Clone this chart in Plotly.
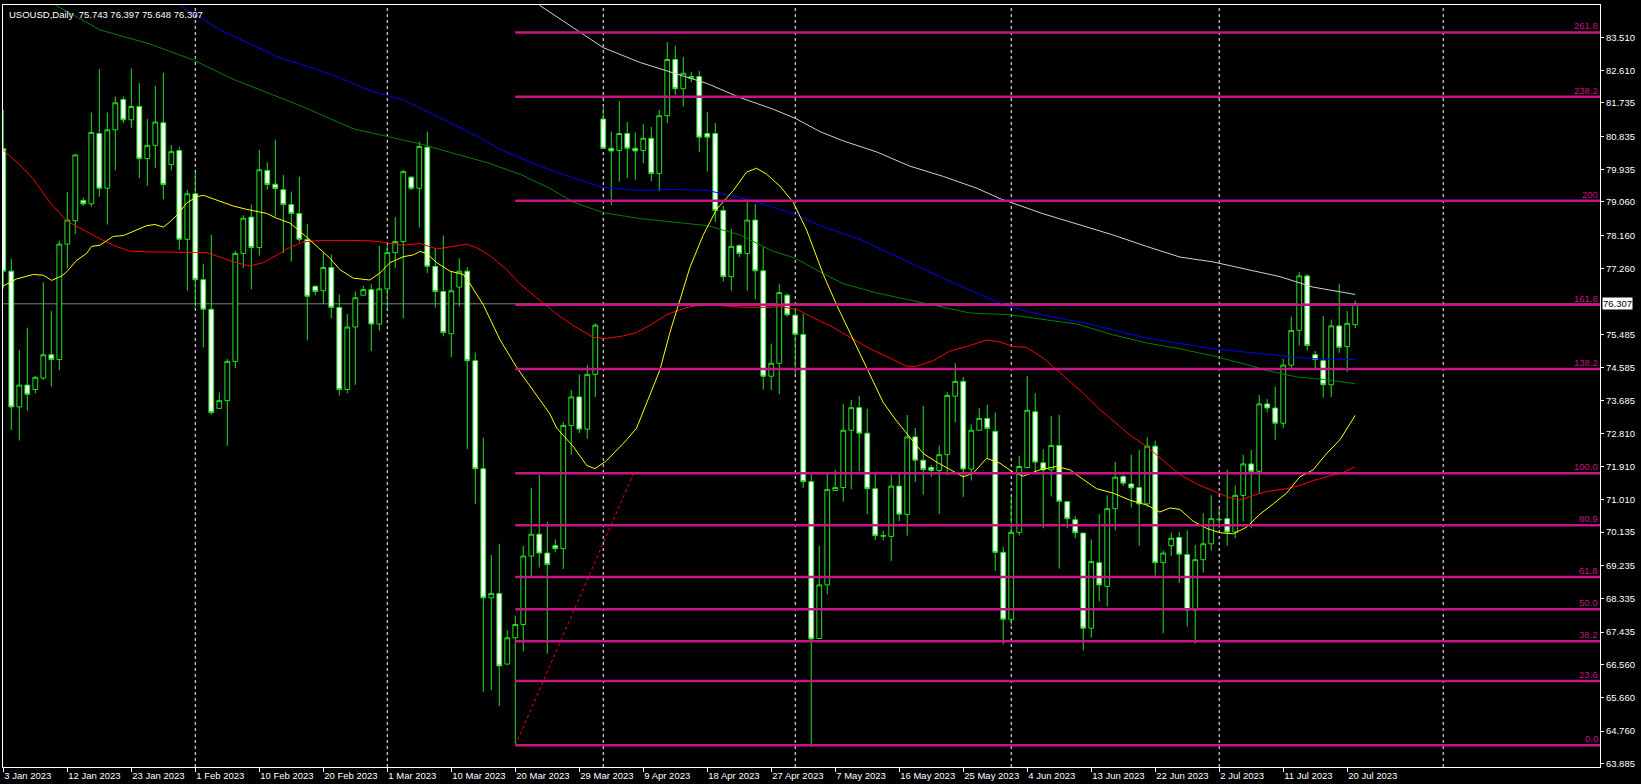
"""USOUSD daily candles with moving averages and a Fibonacci grid (MT4 look)."""

import plotly.graph_objects as go

BG = '#000000'
FG = '#ffffff'
CANDLE_GREEN = '#22e022'
FIB_COLOR = '#c71585'

# one x label every 8 bars (Sunday bars included, as on the broker feed)
TICK_BARS = list(range(0, 169, 8))
TICK_LABELS = [
    '3 Jan 2023', '12 Jan 2023', '23 Jan 2023', '1 Feb 2023', '10 Feb 2023',
    '20 Feb 2023', '1 Mar 2023', '10 Mar 2023', '20 Mar 2023', '29 Mar 2023',
    '9 Apr 2023', '18 Apr 2023', '27 Apr 2023', '7 May 2023', '16 May 2023',
    '25 May 2023', '4 Jun 2023', '13 Jun 2023', '22 Jun 2023', '2 Jul 2023',
    '11 Jul 2023', '20 Jul 2023',
]
# first bar of each month (last one is in the empty future area)
MONTH_BARS = [24, 48, 75, 99, 126, 152, 180]

PRICE_TICKS = [83.510, 82.610, 81.735, 80.835, 79.935, 79.060, 78.160, 77.260,
               75.485, 74.585, 73.685, 72.810, 71.910, 71.010, 70.135, 69.235,
               68.335, 67.435, 66.560, 65.660, 64.760, 63.885]

LAST_PRICE = 76.307

OPEN = [
    80.50, 77.19, 73.52, 74.11, 73.99, 74.30, 74.93, 74.80, 77.92, 78.55,
    79.10, 79.01, 80.91, 79.43, 81.01, 81.83, 81.28, 81.64, 80.23, 80.59,
    81.20, 80.07, 80.45, 78.05, 79.28, 76.96, 76.16, 73.48, 73.69, 74.75,
    77.67, 78.65, 77.83, 79.91, 79.54, 79.39, 78.99, 78.75, 78.05, 76.78,
    76.66, 77.29, 76.21, 73.99, 75.68, 76.54, 76.69, 75.76, 76.71, 77.69,
    77.99, 79.73, 79.43, 80.54, 77.32, 76.64, 75.50, 76.76, 77.19, 74.77,
    71.85, 68.36, 68.48, 66.57, 67.28, 67.64, 69.49, 70.08, 69.57, 69.77,
    69.69, 73.02, 73.79, 72.92, 74.40, 81.30, 80.51, 80.45, 80.91, 80.51,
    80.45, 80.78, 79.83, 81.39, 82.91, 82.12, 82.40, 82.45, 80.91, 80.91,
    78.83, 77.04, 77.88, 77.67, 78.57, 77.20, 74.35, 74.70, 76.54, 76.00,
    75.48, 71.50, 67.26, 68.71, 71.26, 71.34, 72.89, 73.50, 72.81, 71.31,
    70.04, 70.02, 71.38, 70.61, 72.71, 72.08, 71.88, 71.80, 72.23, 73.81,
    74.21, 71.84, 72.89, 73.21, 72.86, 69.59, 67.78, 70.13, 71.88, 73.39,
    72.01, 71.82, 72.48, 70.96, 70.47, 70.11, 67.54, 69.31, 68.67, 70.77,
    71.64, 71.44, 71.34, 70.90, 72.46, 69.31, 69.77, 69.99, 69.53, 68.03,
    69.39, 69.82, 70.47, 70.50, 70.14, 71.13, 71.98, 71.78, 73.60, 73.49,
    73.08, 74.65, 75.59, 77.06, 74.93, 74.77, 74.12, 75.71, 75.15, 75.743,
]
HIGH = [
    81.54, 77.52, 75.05, 75.66, 74.36, 76.89, 76.11, 78.01, 79.33, 80.36,
    79.18, 81.48, 82.65, 81.48, 81.91, 81.91, 82.67, 82.27, 81.30, 82.19,
    82.55, 80.60, 80.55, 79.38, 79.87, 77.38, 78.17, 73.91, 74.82, 77.74,
    78.70, 78.99, 80.46, 80.13, 80.74, 79.79, 79.34, 79.74, 78.47, 76.81,
    77.69, 77.64, 76.56, 76.03, 76.64, 76.79, 76.84, 77.87, 77.89, 78.65,
    79.93, 79.76, 80.69, 80.96, 77.79, 78.15, 77.19, 77.54, 77.29, 74.99,
    72.69, 69.52, 69.82, 67.48, 67.88, 69.77, 71.33, 71.68, 70.41, 69.94,
    73.11, 73.97, 74.40, 74.65, 75.78, 81.62, 80.96, 81.78, 81.22, 80.94,
    81.17, 81.09, 81.54, 83.38, 83.28, 82.98, 82.57, 82.60, 81.49, 81.19,
    78.95, 78.33, 77.92, 79.10, 79.00, 77.86, 75.23, 76.84, 76.59, 76.18,
    76.03, 71.69, 69.77, 71.73, 71.82, 73.60, 73.71, 73.82, 73.47, 71.77,
    70.17, 71.68, 71.75, 73.30, 72.95, 73.54, 71.94, 72.48, 73.92, 74.70,
    74.33, 73.05, 73.49, 73.58, 73.37, 69.74, 71.08, 72.20, 74.36, 73.89,
    72.38, 73.28, 73.31, 70.96, 70.57, 70.11, 69.94, 70.62, 71.13, 72.03,
    71.69, 72.23, 72.36, 72.70, 72.61, 69.64, 70.12, 70.14, 70.18, 69.79,
    70.65, 71.13, 70.77, 71.82, 71.40, 72.23, 72.36, 73.84, 73.73, 74.07,
    74.82, 75.96, 77.16, 77.11, 75.03, 75.98, 75.88, 76.84, 76.11, 76.397,
]
LOW = [
    76.72, 72.89, 72.61, 73.42, 73.89, 74.25, 74.07, 74.52, 77.27, 78.20,
    78.95, 78.93, 79.20, 78.45, 79.91, 81.19, 81.06, 79.71, 79.50, 79.98,
    79.13, 79.91, 77.77, 76.66, 76.21, 75.13, 73.31, 73.48, 72.47, 74.57,
    77.27, 76.70, 77.61, 79.39, 78.67, 77.67, 77.45, 77.98, 75.32, 76.54,
    76.31, 75.91, 73.83, 73.89, 74.12, 76.54, 75.03, 75.58, 76.18, 77.27,
    75.91, 79.38, 78.37, 77.14, 76.21, 75.43, 74.87, 76.23, 72.38, 70.90,
    65.82, 65.87, 65.44, 66.55, 64.39, 66.91, 68.91, 69.18, 66.85, 69.59,
    69.14, 72.23, 72.81, 72.66, 73.79, 80.51, 78.98, 79.61, 79.71, 79.66,
    80.11, 79.62, 79.35, 81.19, 81.95, 81.64, 82.30, 80.41, 79.88, 78.52,
    76.91, 76.66, 77.57, 76.66, 76.43, 73.99, 73.97, 73.87, 75.96, 74.42,
    71.33, 64.33, 67.26, 68.46, 71.26, 70.96, 71.29, 71.78, 70.63, 69.92,
    69.92, 69.36, 70.43, 70.04, 71.50, 71.15, 71.63, 70.63, 71.68, 73.10,
    71.09, 71.53, 72.89, 72.13, 69.09, 67.10, 67.63, 70.04, 71.88, 71.78,
    70.24, 71.10, 69.15, 70.24, 69.97, 66.93, 67.29, 68.26, 68.13, 70.18,
    71.38, 70.80, 69.77, 70.82, 68.96, 67.40, 69.49, 68.76, 67.58, 67.12,
    69.04, 69.64, 70.24, 69.77, 69.97, 70.43, 70.24, 71.19, 73.37, 72.63,
    72.94, 74.55, 75.18, 75.05, 74.52, 73.77, 73.79, 74.98, 74.47, 75.648,
]
CLOSE = [
    77.19, 73.52, 74.11, 73.86, 74.32, 74.93, 74.80, 77.92, 78.57, 80.33,
    79.01, 80.94, 79.43, 81.01, 81.74, 81.28, 81.64, 80.23, 80.59, 81.22,
    79.53, 80.42, 78.05, 79.28, 76.96, 76.16, 73.37, 73.69, 74.75, 77.67,
    78.62, 77.83, 79.93, 79.53, 79.42, 78.99, 78.75, 78.05, 76.51, 76.64,
    77.29, 76.21, 73.99, 75.68, 76.47, 76.69, 75.76, 76.71, 77.69, 77.99,
    79.88, 79.43, 80.56, 77.32, 76.64, 75.53, 76.66, 77.19, 74.77, 71.85,
    68.36, 68.48, 66.52, 67.28, 67.64, 69.49, 70.08, 69.57, 69.26, 69.69,
    73.02, 73.79, 72.92, 74.40, 75.73, 80.51, 80.44, 80.91, 80.51, 80.44,
    80.78, 79.83, 81.39, 82.91, 82.12, 82.54, 82.45, 80.81, 80.81, 78.83,
    77.04, 77.86, 77.67, 78.57, 77.20, 74.35, 74.70, 76.61, 76.01, 75.48,
    71.50, 67.25, 68.71, 71.29, 71.34, 72.89, 73.50, 72.81, 71.31, 70.04,
    70.03, 71.38, 70.62, 72.71, 72.08, 71.83, 71.80, 72.23, 73.83, 74.21,
    71.84, 72.89, 73.21, 72.94, 69.59, 67.78, 70.13, 71.91, 73.43, 72.03,
    71.82, 72.48, 70.97, 70.50, 70.12, 67.54, 69.34, 68.71, 70.77, 71.62,
    71.46, 71.33, 70.90, 72.46, 69.31, 69.57, 69.97, 69.54, 68.03, 69.39,
    69.82, 70.50, 70.48, 70.14, 71.13, 71.98, 71.78, 73.60, 73.49, 73.08,
    74.65, 75.59, 77.06, 75.18, 74.80, 74.12, 75.71, 75.13, 75.78, 76.307,
]

# moving averages at bar positions
YELLOW_X = [0, 1.67, 3.75, 5, 6.04, 7.29, 7.92, 9.17, 10.42, 11.04, 12.08, 13.75,
            15, 16.25, 17.92, 18.96, 20, 20.83, 21.88, 22.92, 24.17, 25, 27.08,
            28.75, 30.42, 31.67, 32.92, 34.17, 35.83, 37.92, 39.58, 40.83, 42.08,
            43.75, 45.83, 47.08, 48.33, 50, 51.25, 52.08, 52.92, 54.17, 55.83,
            57.5, 58.33, 60, 62.08, 64.17, 66.25, 68.33, 69.17, 71.25, 72.92,
            73.96, 75.42, 77.92, 79.17, 80.42, 82.08, 83.33, 84.58, 85.83, 87.5,
            89.17, 91.25, 92.92, 94.17, 95.42, 97.08, 98.75, 100.42, 102.5,
            104.17, 106.25, 108.33, 110, 111.67, 113.33, 115, 116.67, 118.33, 120,
            121.25, 122.92, 124.58, 126.25, 127.5, 129.58, 131.67, 133.33, 135,
            136.67, 138.75, 140.83, 142.92, 144.58, 145.83, 147.08, 148.75,
            150.42, 152.08, 153.75, 155.42, 157.08, 158.75, 160.42, 162.08,
            163.75, 165.42, 167.08, 169]
YELLOW_Y = [76.79, 76.98, 77.10, 77.08, 76.94, 77.06, 77.17, 77.48, 77.67, 77.86,
            77.89, 78.13, 78.15, 78.27, 78.42, 78.45, 78.38, 78.52, 78.74, 79.03,
            79.20, 79.24, 79.08, 78.95, 78.86, 78.80, 78.75, 78.62, 78.49, 78.11,
            77.79, 77.54, 77.23, 77.00, 76.95, 77.14, 77.42, 77.58, 77.63, 77.72,
            77.67, 77.42, 77.19, 77.10, 76.85, 76.28, 75.34, 74.59, 73.96, 73.33,
            72.95, 72.45, 71.94, 71.85, 72.07, 72.63, 72.95, 73.64, 74.52, 75.53,
            76.41, 77.29, 78.17, 78.86, 79.37, 79.87, 79.97, 79.81, 79.49, 79.05,
            78.30, 77.10, 76.28, 75.34, 74.40, 73.64, 73.14, 72.70, 72.26, 72.03,
            71.82, 71.63, 71.73, 72.13, 72.00, 71.75, 71.65, 71.82, 71.91, 71.82,
            71.56, 71.31, 71.19, 71.00, 70.87, 70.68, 70.79, 70.75, 70.43, 70.24,
            70.12, 70.09, 70.27, 70.62, 70.90, 71.19, 71.63, 71.82, 72.26, 72.63,
            73.29]

RED_X = [0, 2.08, 3.75, 5.83, 7.92, 10, 11.67, 13.75, 15.83, 18.33, 22.5, 25.42,
         27.5, 28.75, 30.83, 32.5, 34.58, 35.42, 37.5, 39.58, 43.75, 45.83, 47.92,
         50, 52.08, 54.17, 56.25, 57.92, 59.17, 60.83, 62.92, 64.58, 66.67, 68.33,
         69.17, 71.25, 73.75, 75.42, 77.5, 79.17, 81.25, 82.92, 85, 86.67, 88.75,
         91.25, 92.92, 95.42, 97.08, 99.17, 100.83, 102.08, 103.33, 105.83,
         108.33, 110.83, 112.92, 114.17, 116.25, 118.33, 120.42, 122.92, 124.58,
         126.25, 127.92, 130, 131.67, 133.33, 135, 137.08, 138.75, 140.83,
         142.92, 145, 147.08, 149.17, 151.25, 152.92, 154.58, 156.25, 157.92,
         160.42, 162.08, 163.75, 165.42, 167.5, 169]
RED_Y = [80.46, 80.06, 79.68, 79.05, 78.55, 78.30, 78.11, 77.89, 77.73, 77.71,
         77.71, 77.69, 77.54, 77.44, 77.33, 77.42, 77.67, 77.79, 77.98, 78.02,
         78.02, 78.01, 77.96, 77.89, 77.94, 77.79, 77.86, 77.92, 77.82, 77.61,
         77.23, 76.85, 76.47, 76.18, 76.03, 75.72, 75.40, 75.37, 75.44, 75.53,
         75.78, 76.01, 76.18, 76.26, 76.28, 76.23, 76.21, 76.21, 76.23, 76.16,
         75.97, 75.84, 75.72, 75.40, 75.09, 74.84, 74.62, 74.62, 74.77, 75.03,
         75.15, 75.33, 75.28, 75.15, 75.13, 74.84, 74.52, 74.21, 73.89, 73.45,
         73.14, 72.76, 72.45, 72.07, 71.69, 71.44, 71.25, 71.10, 71.00, 71.13,
         71.23, 71.31, 71.40, 71.53, 71.63, 71.75, 71.90]

GREEN_X = [6.5, 12.1, 18.3, 23.7, 28.7, 34.6, 37.5, 43.7, 48, 52.1, 56.2, 60.5,
           64.6, 68.3, 71.2, 75, 79.6, 83.7, 88, 92.1, 96.2, 99, 102.1, 105,
           109.2, 113.3, 117.5, 120.8, 125.8, 130, 134.2, 138.7, 142.9, 147.1,
           151.2, 155.5, 158, 161.7, 165.5, 169]
GREEN_Y = [84.38, 83.71, 83.33, 82.90, 82.38, 81.88, 81.63, 81.04, 80.82, 80.63,
           80.38, 80.12, 79.81, 79.43, 79.06, 78.77, 78.61, 78.52, 78.42, 78.17,
           77.73, 77.54, 77.17, 76.85, 76.60, 76.41, 76.22, 76.06, 76.01, 75.88,
           75.76, 75.47, 75.25, 75.09, 74.90, 74.66, 74.50, 74.33, 74.25, 74.15]

BLUE_X = [22.1, 27.1, 34.6, 37.5, 41.7, 45.8, 50, 54.2, 58.3, 62.5, 67.1, 71.2,
          75, 79.6, 83.7, 88, 92.1, 96.2, 99.6, 102.1, 107.1, 113.3, 119.6, 125.8,
          130, 135.8, 142.9, 151.2, 159.6, 163.7, 169]
BLUE_Y = [84.38, 83.71, 82.95, 82.76, 82.45, 82.07, 81.82, 81.38, 80.94, 80.44,
          80.03, 79.71, 79.45, 79.37, 79.40, 79.37, 79.18, 78.92, 78.67, 78.42,
          78.05, 77.42, 76.79, 76.22, 76.00, 75.76, 75.38, 75.09, 74.90, 74.82,
          74.80]

WHITE_X = [67, 72.3, 75, 79.6, 83.7, 88, 92.1, 96.2, 99, 102.1, 105, 109.2, 113.3,
           117.5, 121.7, 124.6, 130, 135.8, 138.7, 142.9, 147.1, 151.2, 155.5,
           159.6, 163.7, 169]
WHITE_Y = [84.38, 83.61, 83.23, 82.83, 82.55, 82.26, 81.88, 81.57, 81.32, 80.96,
           80.71, 80.41, 80.03, 79.75, 79.43, 79.15, 78.74, 78.36, 78.17, 77.86,
           77.57, 77.44, 77.23, 77.04, 76.76, 76.56]

# Fibonacci retracement/extension drawn from the 20 Mar low
FIB_START_BAR = 64
FIB_END_BAR = 78.8
FIB_LEVELS = ['0.0', '23.6', '38.2', '50.0', '61.8', '80.9', '100.0', '138.2',
              '161.8', '200', '238.2', '261.8']
FIB_PRICES = [64.375, 66.11, 67.19, 68.05, 68.92, 70.32, 71.73, 74.545, 76.28,
              79.09, 81.90, 83.64]

X_RANGE = [-0.04, 199.6]
Y_RANGE = [63.788, 84.383]

FONT = 'Liberation Sans, Arial, sans-serif'

fig = go.Figure()

fig.add_trace(go.Candlestick(
    x=list(range(len(OPEN))),
    open=OPEN, high=HIGH, low=LOW, close=CLOSE,
    increasing=dict(fillcolor=BG, line=dict(color=CANDLE_GREEN, width=1)),
    decreasing=dict(fillcolor='#ffffff', line=dict(color=CANDLE_GREEN, width=1)),
    whiskerwidth=0,
    hoverinfo='skip',
))

for xs, ys, color in [
    (WHITE_X, WHITE_Y, '#d0d0d0'),
    (BLUE_X, BLUE_Y, '#0000ff'),
    (GREEN_X, GREEN_Y, '#008000'),
    (RED_X, RED_Y, '#ff0000'),
    (YELLOW_X, YELLOW_Y, '#ffff00'),
]:
    fig.add_trace(go.Scatter(
        x=xs, y=ys, mode='lines',
        line=dict(color=color, width=1),
        hoverinfo='skip',
    ))

shapes = []
# month separators
for b in MONTH_BARS:
    shapes.append(dict(
        type='line', xref='x', yref='paper', x0=b, x1=b, y0=0, y1=1,
        line=dict(color=FG, width=1, dash='3px,3px'), layer='below',
    ))
# bid line
shapes.append(dict(
    type='line', xref='paper', yref='y', x0=0, x1=1, y0=LAST_PRICE, y1=LAST_PRICE,
    line=dict(color='#808080', width=1), layer='below',
))
# fibo levels
for p in FIB_PRICES:
    shapes.append(dict(
        type='line', xref='x', yref='y', x0=FIB_START_BAR, x1=X_RANGE[1], y0=p, y1=p,
        line=dict(color=FIB_COLOR, width=2.5),
    ))
# fibo trend line
shapes.append(dict(
    type='line', xref='x', yref='y',
    x0=FIB_START_BAR, y0=FIB_PRICES[0], x1=FIB_END_BAR, y1=FIB_PRICES[6],
    line=dict(color='#ff0000', width=1, dash='dot'),
))

annotations = [dict(
    text='USOUSD,Daily\u00a0 75.743 76.397 75.648 76.307',
    xref='paper', yref='paper', x=0, y=1, xanchor='left', yanchor='top',
    xshift=4, yshift=-2, showarrow=False,
    font=dict(family=FONT, size=9.5, color=FG),
)]
for lbl, p in zip(FIB_LEVELS, FIB_PRICES):
    annotations.append(dict(
        text=lbl, xref='paper', yref='y', x=1, y=p,
        xanchor='right', yanchor='bottom', yshift=-1, showarrow=False,
        font=dict(family=FONT, size=9.5, color=FIB_COLOR),
    ))
annotations.append(dict(
    text=f'{LAST_PRICE:.3f}', xref='paper', yref='y', x=1, y=LAST_PRICE,
    xanchor='left', yanchor='middle', xshift=2, showarrow=False,
    bgcolor='#ffffff', borderpad=0,
    font=dict(family=FONT, size=9.5, color='#000000'),
))

fig.update_layout(
    width=1641,
    height=784,
    paper_bgcolor=BG,
    plot_bgcolor=BG,
    showlegend=False,
    margin=dict(l=3, r=41, t=5, b=17),
    boxgap=0.4,
    boxgroupgap=0,
    font=dict(family=FONT, size=9.5, color=FG),
    shapes=shapes,
    annotations=annotations,
    xaxis=dict(
        range=X_RANGE,
        rangeslider=dict(visible=False),
        showgrid=False, zeroline=False,
        tickmode='array', tickvals=TICK_BARS, ticktext=TICK_LABELS,
        ticks='outside', ticklen=4, tickcolor=FG,
        ticklabelposition='outside right',
        tickfont=dict(family=FONT, size=9.5, color=FG),
        showline=True, linecolor=FG, linewidth=1, mirror=True,
    ),
    yaxis=dict(
        range=Y_RANGE,
        side='right',
        showgrid=False, zeroline=False,
        tickmode='array', tickvals=PRICE_TICKS,
        ticktext=[f'{v:.3f}' for v in PRICE_TICKS],
        ticks='outside', ticklen=3, tickcolor=FG,
        tickfont=dict(family=FONT, size=9.5, color=FG),
        showline=True, linecolor=FG, linewidth=1, mirror=True,
    ),
)

# the page body keeps its default 8px margin otherwise, which shifts the chart
fig.write_html(
    'out.html',
    config={'displayModeBar': False},
    post_script="document.body.style.margin='0';",
)
